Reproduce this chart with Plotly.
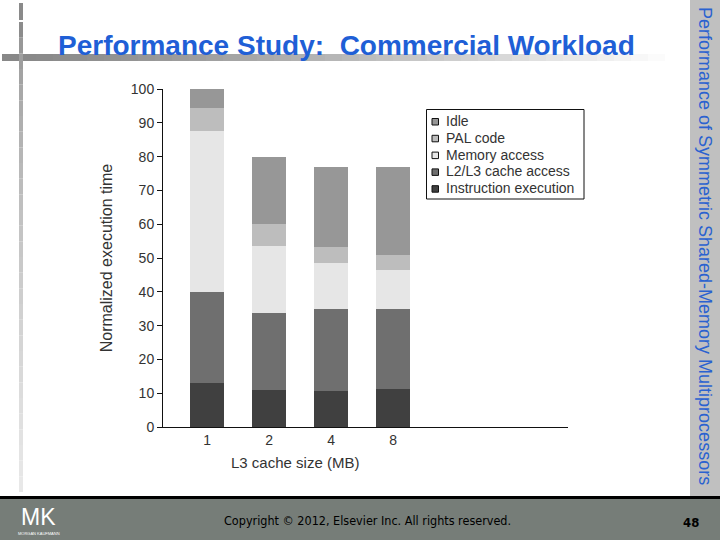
import plotly.graph_objects as go

# ---- data ----
cache_sizes = ["1", "2", "4", "8"]
instruction_execution = [13.0, 10.9, 10.6, 11.2]
l2l3_cache_access = [27.0, 22.8, 24.3, 23.7]
memory_access = [47.6, 19.8, 13.7, 11.5]
pal_code = [6.8, 6.5, 4.7, 4.5]
idle = [5.6, 20.0, 23.6, 26.0]

series_names = ["Instruction execution", "L2/L3 cache access", "Memory access", "PAL code", "Idle"]
series_values = [instruction_execution, l2l3_cache_access, memory_access, pal_code, idle]
series_colors = ["#404040", "#6f6f6f", "#e6e6e6", "#bdbdbd", "#979797"]

W, H = 720, 540
L, R, T, B = 163, 152, 89, 113
PW, PH = W - L - R, H - T - B


def px(x):
    return (x - L) / PW


def py(y):
    return (H - B - y) / PH


fig = go.Figure()
for name, vals, col in zip(series_names, series_values, series_colors):
    fig.add_trace(go.Bar(x=cache_sizes, y=vals, name=name, marker=dict(color=col, line=dict(width=0)),
                         width=0.55, showlegend=False))

shapes = []
# title underline bar with gradient
n = 40
x0, x1 = 2, 682
for i in range(n):
    a = x0 + (x1 - x0) * i / n
    b = x0 + (x1 - x0) * (i + 1) / n
    g = int(0x88 + (0xff - 0x88) * (i / (n - 1)) ** 1.3)
    shapes.append(dict(type="rect", xref="paper", yref="paper", x0=px(a), x1=px(b), y0=py(61), y1=py(54),
                       fillcolor=f"rgb({g},{g},{g})", line=dict(width=0), layer="below"))
# vertical line left
shapes.append(dict(type="rect", xref="paper", yref="paper", x0=px(19), x1=px(23), y0=py(20), y1=py(3),
                   fillcolor="#8a8a8a", line=dict(width=0), layer="below"))
m = 30
for i in range(m):
    a = 22 + (492 - 22) * i / m
    b = 22 + (492 - 22) * (i + 1) / m
    g = int(0x8c + (0xe8 - 0x8c) * (i / (m - 1)) ** 0.6)
    shapes.append(dict(type="rect", xref="paper", yref="paper", x0=px(19), x1=px(23), y0=py(b), y1=py(a),
                       fillcolor=f"rgb({g},{g},{g})", line=dict(width=0), layer="below"))
# right sidebar
shapes.append(dict(type="rect", xref="paper", yref="paper", x0=px(690), x1=px(720), y0=py(497), y1=py(0),
                   fillcolor="#c0c0c0", line=dict(width=0), layer="below"))
# black line and bottom bar
shapes.append(dict(type="rect", xref="paper", yref="paper", x0=px(0), x1=px(720), y0=py(499), y1=py(496),
                   fillcolor="#000000", line=dict(width=0), layer="below"))
shapes.append(dict(type="rect", xref="paper", yref="paper", x0=px(0), x1=px(720), y0=py(540), y1=py(499),
                   fillcolor="#767d78", line=dict(width=0), layer="below"))

annotations = [
    dict(text="<b>Performance Study:\u00a0\u00a0Commercial Workload</b>", xref="paper", yref="paper",
         x=px(56), y=py(45), xanchor="left", yanchor="middle", showarrow=False,
         font=dict(family="Liberation Sans, Arial", size=28, color="#1f5fd6")),
    dict(text="Performance of Symmetric Shared-Memory Multiprocessors", xref="paper", yref="paper",
         x=px(705), y=py(246), xanchor="center", yanchor="middle", textangle=90, showarrow=False,
         font=dict(family="Liberation Sans, Arial", size=18, color="#2a62d0")),
    dict(text="Copyright © 2012, Elsevier Inc. All rights reserved.", xref="paper", yref="paper",
         x=px(367), y=py(520), xanchor="center", yanchor="middle", showarrow=False,
         font=dict(family="DejaVu Sans Condensed, Liberation Sans", size=12.5, color="#000000")),
    dict(text="<b>48</b>", xref="paper", yref="paper",
         x=px(691), y=py(522), xanchor="center", yanchor="middle", showarrow=False,
         font=dict(family="DejaVu Sans Condensed, Liberation Sans", size=13, color="#000000")),
    dict(text="MK", xref="paper", yref="paper",
         x=px(38), y=py(517), xanchor="center", yanchor="middle", showarrow=False,
         font=dict(family="DejaVu Sans ExtraLight, Liberation Sans", size=23, color="#ffffff")),
    dict(text="MORGAN KAUFMANN", xref="paper", yref="paper",
         x=px(39), y=py(533), xanchor="center", yanchor="middle", showarrow=False,
         font=dict(family="Liberation Sans", size=4, color="#ffffff")),
    dict(text="L3 cache size (MB)", xref="paper", yref="paper",
         x=px(295), y=py(462), xanchor="center", yanchor="middle", showarrow=False,
         font=dict(family="Liberation Sans, Arial", size=15, color="#333333")),
]

# legend (box, swatches, labels), top to bottom
shapes.append(dict(type="rect", xref="paper", yref="paper", x0=px(426.5), x1=px(584), y0=py(199), y1=py(109.5),
                   fillcolor="white", line=dict(color="#111111", width=1), layer="above"))
leg_y0, leg_dy = 121, 16.8
for k, (name, col) in enumerate(zip(series_names[::-1], series_colors[::-1])):
    yc = leg_y0 + k * leg_dy
    shapes.append(dict(type="rect", xref="paper", yref="paper", x0=px(432), x1=px(438.5),
                       y0=py(yc + 4), y1=py(yc - 2.5), fillcolor=col,
                       line=dict(color="#111111", width=1), layer="above"))
    annotations.append(dict(text=name, xref="paper", yref="paper", x=px(443.5), y=py(yc),
                            xanchor="left", yanchor="middle", showarrow=False,
                            font=dict(family="Liberation Sans, Arial", size=14, color="#333333")))

fig.update_layout(
    width=W, height=H,
    margin=dict(l=L, r=R, t=T, b=B),
    paper_bgcolor="white", plot_bgcolor="white",
    barmode="stack", showlegend=False,
    shapes=shapes, annotations=annotations,
    font=dict(family="Liberation Sans, Arial", color="#333333"),
    xaxis=dict(type="category", range=[-0.71, 5.82], showline=True, linecolor="#111111", linewidth=1,
               ticks="", showgrid=False, zeroline=False, tickfont=dict(size=14, color="#333333")),
    yaxis=dict(range=[0, 100], tickvals=[0, 10, 20, 30, 40, 50, 60, 70, 80, 90, 100],
               showline=True, linecolor="#111111", linewidth=1, ticks="outside", ticklen=5,
               tickcolor="#111111", showgrid=False, zeroline=False,
               tickfont=dict(size=14, color="#333333"),
               title=dict(text="Normalized execution time", standoff=14,
                          font=dict(size=16, color="#333333"))),
)

fig.write_html("out.html", config={"displayModeBar": False},
               post_script="document.body.style.margin='0';document.body.style.overflow='hidden';")
